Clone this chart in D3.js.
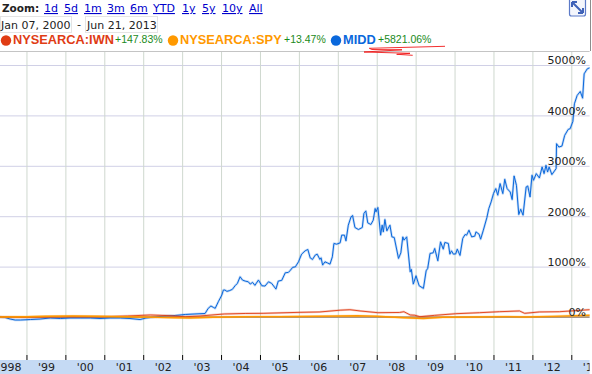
<!DOCTYPE html>
<html>
<head>
<meta charset="utf-8">
<script src="https://cdn.jsdelivr.net/npm/d3@7"></script>
<style>
  html, body { margin: 0; padding: 0; background: #fff; }
  svg { display: block; }
  .ui { font-family: "DejaVu Sans", sans-serif; font-size: 11px; fill: #222; }
  .link { fill: #0000cc; text-decoration: underline; }
  .legendName { font-family: "Liberation Sans", sans-serif; font-size: 12.8px; font-weight: bold; }
  .legendChange { font-family: "Liberation Sans", sans-serif; font-size: 10.5px; fill: #1a8a1a; }
</style>
</head>
<body>
<div id="chart"></div>
<script>
// zoom links + legend
var zoomLinks = ["1d", "5d", "1m", "3m", "6m", "YTD", "1y", "5y", "10y", "All"];
var zoomLinkLeft = [44, 64, 84, 107, 130, 153, 182, 202, 222, 249];
var dateRange = ["Jan 07, 2000", "Jun 21, 2013"];
var seriesNames = ["NYSEARCA:IWN", "NYSEARCA:SPY", "MIDD"];
var seriesChanges = ["+147.83%", "+13.47%", "+5821.06%"];

// axis values
var tickYears = d3.range(1999, 2014);
var yearLabels = ["1998", "'99", "'00", "'01", "'02", "'03", "'04", "'05", "'06", "'07", "'08", "'09", "'10", "'11", "'12", "'13"];
var pctTicks = [0, 1000, 2000, 3000, 4000, 5000];

// values: decimal year, % change
var middYears = [1998.32, 1998.45, 1998.58, 1998.71, 1998.84, 1999.10, 1999.35, 1999.61, 1999.87, 2000.12, 2000.38, 2000.64, 2000.89, 2001.15, 2001.41, 2001.66, 2001.92, 2002.07, 2002.31, 2002.56, 2002.82, 2003.08, 2003.33, 2003.59,
  2003.67, 2003.74, 2003.80, 2003.85, 2003.93, 2004.02, 2004.06, 2004.10, 2004.15, 2004.21, 2004.29, 2004.36, 2004.42, 2004.49, 2004.55, 2004.62, 2004.70, 2004.75, 2004.81, 2004.87, 2004.96,
  2005.05, 2005.13, 2005.22, 2005.30, 2005.41, 2005.47, 2005.56, 2005.65, 2005.73, 2005.77, 2005.84, 2005.91, 2005.99,
  2006.07, 2006.16, 2006.23, 2006.29, 2006.35, 2006.42, 2006.47, 2006.54, 2006.57, 2006.61, 2006.67, 2006.73, 2006.80, 2006.86, 2006.90, 2006.97,
  2007.06, 2007.10, 2007.17, 2007.21, 2007.27, 2007.34, 2007.38, 2007.44, 2007.53, 2007.63, 2007.67, 2007.72, 2007.77, 2007.85, 2007.91, 2007.96, 2007.98,
  2008.03, 2008.10, 2008.14, 2008.17, 2008.21, 2008.26, 2008.34, 2008.39, 2008.45, 2008.56, 2008.62, 2008.67, 2008.70, 2008.77, 2008.86, 2008.89, 2008.94,
  2009.01, 2009.09, 2009.20, 2009.27, 2009.31, 2009.37, 2009.45, 2009.49, 2009.57, 2009.64, 2009.71, 2009.75, 2009.84, 2009.88, 2009.92, 2009.97,
  2010.03, 2010.07, 2010.14, 2010.21, 2010.27, 2010.31, 2010.37, 2010.44, 2010.52, 2010.55, 2010.63, 2010.67, 2010.74, 2010.83, 2010.88, 2010.94,
  2011.00, 2011.06, 2011.11, 2011.17, 2011.24, 2011.29, 2011.35, 2011.43, 2011.48, 2011.53, 2011.59, 2011.65, 2011.70, 2011.76, 2011.84, 2011.88, 2011.94, 2011.99,
  2012.03, 2012.10, 2012.18, 2012.25, 2012.30, 2012.35, 2012.39, 2012.43, 2012.50, 2012.61, 2012.62, 2012.68, 2012.76, 2012.83, 2012.92, 2012.97,
  2013.04, 2013.08, 2013.15, 2013.23, 2013.29, 2013.33, 2013.41, 2013.47];
var middPct = [0, -10, -40, -60, -60, -50, -40, -20, -30, -20, -20, -20, -30, -20, -20, -30, -50, -20, 0, 20, 30, 50, 60, 70,
  172, 218, 192, 172, 303, 436, 535, 535, 509, 521, 548, 620, 667, 798, 733, 713, 699, 653, 687, 628, 733,
  620, 614, 699, 667, 554, 713, 727, 877, 885, 917, 984, 996, 1095,
  1247, 1313, 1340, 1174, 1142, 1228, 1247, 1142, 1174, 1030, 1095, 1075, 1049, 1194, 1459, 1445,
  1471, 1624, 1624, 1511, 1822, 1986, 2014, 1776, 1736, 1776, 2053, 2105, 1867, 1835, 1921, 2152, 2085,
  2172, 1624, 1822, 1689, 1934, 1709, 1822, 1590, 1578, 1162, 1273, 1590, 1525, 1590, 897, 944, 653,
  818, 620, 568, 917, 964, 1261, 1273, 1360, 1115, 1491, 1346, 1479, 1459, 1247, 1313, 1247,
  1253, 1346, 1222, 1558, 1637, 1624, 1723, 1590, 1604, 1689, 1643, 1544, 1723, 1970, 2152, 2283,
  2449, 2548, 2416, 2647, 2449, 2732, 2548, 2481, 2330, 2798, 2614, 2033, 2138, 2020, 2580, 2600, 2382, 2812,
  2713, 2845, 2758, 2976, 2845, 3010, 2877, 2976, 2825, 2944, 3439, 3372, 3392, 3604, 3722, 3736,
  3881, 4231, 4396, 4475, 4342, 4825, 4924, 4944];

var iwnYears = [1998.32, 1999.0, 2000.0, 2001.0, 2001.6, 2002.18, 2002.56, 2003.08, 2003.46, 2004.08, 2004.62, 2005.08, 2006.03, 2006.54, 2007.06, 2007.31, 2007.57, 2008.03, 2008.59, 2008.70, 2008.86, 2008.98, 2009.11, 2009.49, 2010.03, 2010.64, 2011.15, 2011.67, 2011.80, 2012.18, 2012.70, 2013.47];
var iwnPct = [0, -5, 5, 5, 20, 40, 30, 5, 20, 60, 70, 73, 93, 100, 135, 145, 120, 85, 90, 105, 40, 35, 6, 33, 65, 85, 105, 120, 73, 100, 105, 145];

var spyYears = [1998.32, 1999.0, 1999.5, 2000.2, 2000.8, 2001.5, 2002.3, 2002.8, 2003.2, 2003.8, 2004.5, 2005.5, 2006.5, 2007.5, 2008.0, 2008.7, 2009.2, 2009.7, 2010.5, 2011.3, 2011.8, 2012.5, 2013.47];
var spyPct = [0, 5, 15, 20, 15, 5, -5, -15, -20, -5, 5, 8, 15, 25, 15, -15, -30, -5, 0, 8, 0, 12, 35];

var width = 592, height = 374;
var plotRight = 589.6, plotTop = 51, plotBottom = 355, bandTop = 360;
var seriesColors = ["#e03c14", "#ff9900", "#0a68dc"];

var x = d3.scaleLinear().domain([1998.32, 2013.47]).range([0, plotRight]);
var y = d3.scaleLinear().domain([0, 5000]).range([317, 65]);

var svg = d3.select("#chart").append("svg")
    .attr("width", width)
    .attr("height", height);

// clip for anything running past the plot
svg.append("clipPath").attr("id", "plotClip")
  .append("rect").attr("width", plotRight).attr("height", height);

// horizontal grid
var gridY = svg.append("g")
    .call(d3.axisLeft(y).tickValues(pctTicks).tickSize(-plotRight).tickFormat(""));
gridY.select(".domain").remove();
gridY.selectAll("line").attr("stroke", "#d0d0e6");

// vertical grid
var gridX = svg.append("g")
    .attr("transform", "translate(0," + plotBottom + ")")
    .call(d3.axisTop(x).tickValues(tickYears).tickSize(plotBottom - plotTop).tickFormat(""));
gridX.select(".domain").remove();
gridX.selectAll("line").attr("stroke", "#cfd8cf");

// frame top line
svg.append("line")
    .attr("x1", 0).attr("x2", plotRight)
    .attr("y1", plotTop + 0.5).attr("y2", plotTop + 0.5)
    .attr("stroke", "#c4c4c4");

// date band + ticks
svg.append("rect")
    .attr("x", 0).attr("y", bandTop)
    .attr("width", plotRight).attr("height", height - bandTop)
    .attr("fill", "#c5daf4");

var tickAxis = svg.append("g")
    .attr("transform", "translate(0," + bandTop + ")")
    .call(d3.axisTop(x).tickValues(tickYears).tickSize(bandTop - plotBottom).tickFormat(""));
tickAxis.select(".domain").remove();
tickAxis.selectAll("line").attr("stroke", "#000");

// year labels sit in the middle of each year
var labelAxis = svg.append("g")
    .attr("clip-path", "url(#plotClip)")
    .append("g")
    .attr("transform", "translate(0," + bandTop + ")")
    .call(d3.axisBottom(x)
      .tickValues(yearLabels.map(function(d, i) { return 1998.5 + i; }))
      .tickSize(0)
      .tickPadding(3)
      .tickFormat(function(d, i) { return yearLabels[i]; }));
labelAxis.select(".domain").remove();
labelAxis.selectAll("text").attr("class", "ui").style("font-size", "11px").attr("fill", "#222");

// zero line
svg.append("line")
    .attr("x1", 0).attr("x2", plotRight)
    .attr("y1", y(0)).attr("y2", y(0))
    .attr("stroke", "#7a5a30");

// series lines, each with the pale halo the picture has round it
var line = d3.line()
    .x(function(d) { return x(d[0]); })
    .y(function(d) { return y(d[1]); });

function drawSeries(years, values, color, w) {
  var points = d3.zip(years, values);
  svg.append("path")
      .datum(points)
      .attr("fill", "none")
      .attr("stroke", color)
      .attr("stroke-opacity", 0.25)
      .attr("stroke-width", w + 1.4)
      .attr("stroke-linejoin", "round")
      .attr("d", line);
  svg.append("path")
      .datum(points)
      .attr("fill", "none")
      .attr("stroke", color)
      .attr("stroke-width", w)
      .attr("stroke-linejoin", "round")
      .attr("d", line);
}

drawSeries(middYears, middPct, seriesColors[2], 1);
drawSeries(iwnYears, iwnPct, seriesColors[0], 0.9);
drawSeries(spyYears, spyPct, seriesColors[1], 1.3);

// percent labels on the right
var pctAxis = svg.append("g")
    .attr("transform", "translate(586,0)")
    .call(d3.axisLeft(y)
      .tickValues(pctTicks)
      .tickSize(0)
      .tickPadding(0)
      .tickFormat(function(d) { return d + "%"; }));
pctAxis.select(".domain").remove();
pctAxis.selectAll("text")
    .attr("class", "ui")
    .attr("dy", "-0.1em")
    .attr("y", 0)
    .attr("fill", "#222");

// zoom row
svg.append("text").attr("class", "ui").attr("x", 2).attr("y", 12)
    .style("font-weight", "bold").style("font-size", "10.5px").text("Zoom:");
svg.selectAll(".link").data(zoomLinks).enter().append("text")
    .attr("class", "ui link")
    .attr("x", function(d, i) { return zoomLinkLeft[i]; })
    .attr("y", 12)
    .text(function(d) { return d; });

// date boxes
var boxLeft = [0, 85], boxWidth = [71, 72];
dateRange.forEach(function(d, i) {
  svg.append("rect")
      .attr("x", boxLeft[i] + 0.5).attr("y", 16.5)
      .attr("width", boxWidth[i]).attr("height", 16)
      .attr("fill", "#fff").attr("stroke", "#e4e4e4");
  svg.append("text").attr("class", "ui")
      .attr("x", boxLeft[i] + (i ? 2 : 1)).attr("y", 29)
      .text(d);
});
svg.append("text").attr("class", "ui").attr("x", 77).attr("y", 28).text("-");

// legend
var legendDot = [6, 173, 336], legendName = [13, 180, 343], legendChange = [115, 284, 378];
seriesNames.forEach(function(d, i) {
  svg.append("circle")
      .attr("cx", legendDot[i]).attr("cy", 40.5).attr("r", 5.2)
      .attr("fill", seriesColors[i]);
  svg.append("text").attr("class", "legendName")
      .attr("x", legendName[i]).attr("y", 44)
      .attr("fill", seriesColors[i])
      .text(d);
  svg.append("text").attr("class", "legendChange")
      .attr("x", legendChange[i]).attr("y", 43)
      .text(seriesChanges[i]);
});

// red hand drawn marks under the MIDD figure
svg.append("path")
    .attr("d", "M445 46.3L369.3 48.3L372 49.5L402 49.8L364 52L410 53.3L396.7 54.3L412.7 55.3")
    .attr("fill", "none")
    .attr("stroke", "#f01818")
    .attr("stroke-width", 0.9);

// full screen icon
svg.append("rect")
    .attr("x", 569.5).attr("y", -3).attr("width", 16).attr("height", 19).attr("rx", 2)
    .attr("fill", "#f4f6fc").attr("stroke", "#5d7bc8").attr("stroke-width", 1.2);
svg.append("path")
    .attr("d", "M572 2L583 13M572 2H577M572 2V7M583 13H578M583 13V8")
    .attr("fill", "none").attr("stroke", "#3f62b8").attr("stroke-width", 2);

// window edge above the plot
svg.append("line")
    .attr("x1", 590.5).attr("x2", 590.5).attr("y1", 0).attr("y2", plotTop)
    .attr("stroke", "#8c8c8c");
</script>
</body>
</html>
